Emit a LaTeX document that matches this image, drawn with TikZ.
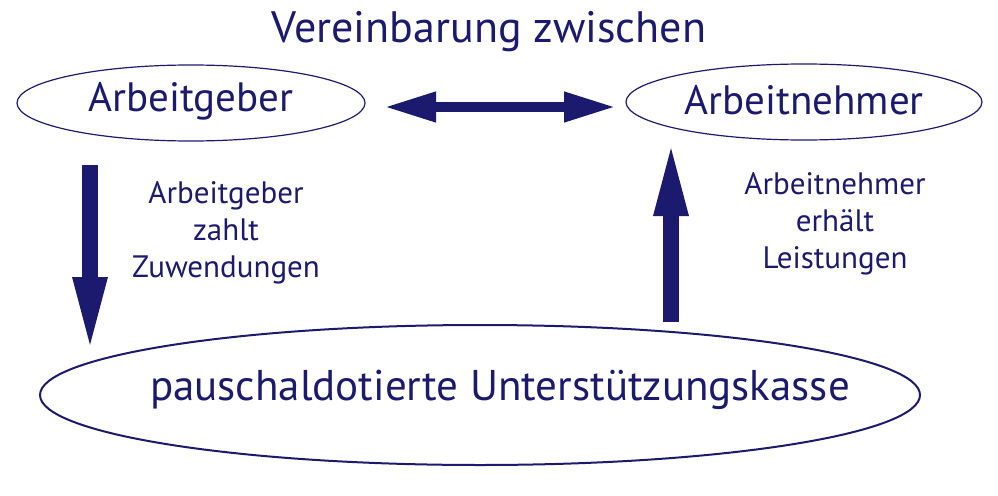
\documentclass[tikz,border=0pt]{standalone}
\usepackage{fontspec}
\setmainfont{PT Sans}
\usetikzlibrary{arrows.meta}
\definecolor{navy}{HTML}{1B1A6E}
\begin{document}
\begin{tikzpicture}[x=1pt,y=-1pt,
  lbl/.style={text=navy,align=center,font=\fontsize{31}{37}\selectfont},
  fat/.style={navy,line width=#1}]
\useasboundingbox (0,0) rectangle (998,495);
\node[text=navy,font=\fontsize{44}{48}\selectfont] (title) at (489,32) {Vereinbarung zwischen};
\draw[navy,line width=1.2pt] (191,103) ellipse [x radius=174,y radius=38];
\node[text=navy,font=\fontsize{41}{44}\selectfont] (ag) at (191,101) {Arbeitgeber};
\draw[navy,line width=1.2pt] (804,102) ellipse [x radius=178,y radius=38];
\node[text=navy,font=\fontsize{41}{44}\selectfont] (an) at (804,100) {Arbeitnehmer};
\draw[navy,line width=2pt] (480,395) ellipse [x radius=440,y radius=70];
\node[text=navy,font=\fontsize{43}{46}\selectfont] (uk) at (500,390) {pauschaldotierte Unterstützungskasse};
\coordinate (d1) at (384,107); \coordinate (d2) at (616,107);
\draw[fat=10pt,{Triangle[length=52pt,width=28pt]}-{Triangle[length=52pt,width=28pt]}] (d1) -- (d2);
\coordinate (a1) at (90,165); \coordinate (a2) at (90,357);
\draw[fat=16pt,-{Triangle[length=80pt,width=30pt]}] (a1) -- (a2);
\coordinate (b1) at (671,322); \coordinate (b2) at (671,136);
\draw[fat=16pt,-{Triangle[length=80pt,width=30pt]}] (b1) -- (b2);
\node[lbl] (l1) at (226,233) {Arbeitgeber\\zahlt\\Zuwendungen};
\node[lbl] (l2) at (835,224) {Arbeitnehmer\\erhält\\Leistungen};
\end{tikzpicture}
\end{document}
